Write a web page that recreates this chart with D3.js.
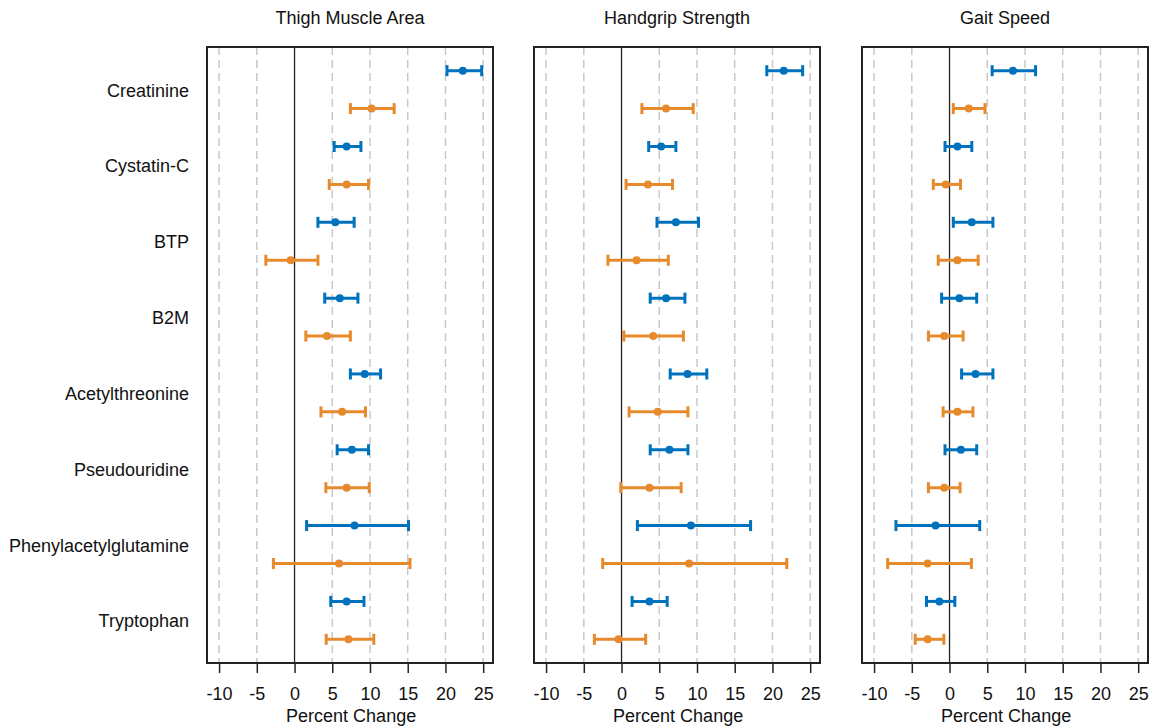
<!DOCTYPE html>
<html>
<head>
<meta charset="utf-8">
<script src="https://cdn.jsdelivr.net/npm/d3@7"></script>
<style>
  body { margin: 0; background: #fff; }
  text { font-family: Arial, "Liberation Sans", sans-serif; fill: #111; }
</style>
</head>
<body>
<svg id="chart" width="1158" height="728"></svg>
<script>
// biomarkers, top to bottom
var markers = ['Creatinine', 'Cystatin-C', 'BTP', 'B2M', 'Acetylthreonine',
               'Pseudouridine', 'Phenylacetylglutamine', 'Tryptophan'];
var panels = ['Thigh Muscle Area', 'Handgrip Strength', 'Gait Speed'];
var xticks = [-10, -5, 0, 5, 10, 15, 20, 25];

// [estimate, lower, upper] per marker; blue series then orange series
var thighBlue = [[22.3, 20.2, 24.8], [6.9, 5.25, 8.8], [5.4, 3.1, 7.9], [6.0, 4.0, 8.4],
                 [9.3, 7.4, 11.4], [7.6, 5.65, 9.8], [7.95, 1.6, 15.1], [6.9, 4.8, 9.2]];
var thighOrange = [[10.2, 7.4, 13.2], [6.9, 4.6, 9.8], [-0.5, -3.8, 3.1], [4.3, 1.5, 7.4],
                   [6.3, 3.5, 9.4], [6.9, 4.15, 9.9], [5.9, -2.8, 15.3], [7.15, 4.2, 10.5]];
var gripBlue = [[21.5, 19.25, 24.0], [5.25, 3.6, 7.2], [7.2, 4.7, 10.2], [5.9, 3.8, 8.4],
                [8.75, 6.45, 11.3], [6.35, 3.8, 8.8], [9.2, 2.1, 17.1], [3.7, 1.4, 6.05]];
var gripOrange = [[5.9, 2.7, 9.5], [3.5, 0.6, 6.75], [2.0, -1.8, 6.2], [4.2, 0.3, 8.2],
                  [4.8, 1.0, 8.8], [3.7, -0.1, 7.9], [8.95, -2.5, 21.9], [-0.4, -3.6, 3.2]];
var gaitBlue = [[8.4, 5.65, 11.4], [1.05, -0.6, 2.95], [2.95, 0.5, 5.75], [1.3, -1.05, 3.6],
                [3.45, 1.6, 5.75], [1.5, -0.6, 3.6], [-1.85, -7.1, 4.0], [-1.35, -3.05, 0.7]];
var gaitOrange = [[2.55, 0.5, 4.7], [-0.5, -2.15, 1.45], [1.05, -1.5, 3.8], [-0.7, -2.8, 1.8],
                  [1.05, -0.85, 3.1], [-0.7, -2.8, 1.4], [-2.9, -8.2, 2.9], [-2.9, -4.55, -0.75]];

var panelData = [[thighBlue, thighOrange], [gripBlue, gripOrange], [gaitBlue, gaitOrange]];
var colors = ['#0072bd', '#e68a2c'];

var svg = d3.select('#chart');

var top_y = 47, bottom_y = 663;
var panel_left = [207, 534, 862];
var panel_width = 286;
var font_size = '18px';

// 16 rows: blue and orange for each marker
var y = d3.scaleLinear()
    .domain([-0.625, 15.625])
    .range([top_y, bottom_y]);

// marker labels
svg.append('g').selectAll('text')
    .data(markers)
  .enter()
    .append('text')
    .attr('x', 189)
    .attr('y', function(d, i) { return y(i * 2 + 0.5) + 1; })
    .attr('text-anchor', 'end')
    .attr('dominant-baseline', 'central')
    .style('font-size', font_size)
    .text(function(d) { return d; });

for (var p = 0; p < panels.length; p++) {

    var x = d3.scaleLinear()
        .domain([-11.6, 26.3])
        .range([panel_left[p], panel_left[p] + panel_width]);

    var g = svg.append('g');

    // dashed grid
    g.selectAll('line.grid')
        .data(xticks.filter(function(t) { return t != 0; }))
      .enter()
        .append('line')
        .attr('class', 'grid')
        .attr('x1', function(d) { return x(d); })
        .attr('x2', function(d) { return x(d); })
        .attr('y1', top_y)
        .attr('y2', bottom_y)
        .attr('stroke', '#c8c8c8')
        .attr('stroke-width', 1.5)
        .attr('stroke-dasharray', '8,5');

    // zero line
    g.append('line')
        .attr('x1', x(0)).attr('x2', x(0))
        .attr('y1', top_y).attr('y2', bottom_y)
        .attr('stroke', '#222')
        .attr('stroke-width', 1.3);

    // x axis
    var axis = d3.axisBottom(x)
        .tickValues(xticks)
        .tickFormat(function(d) { return String(d); })
        .tickSize(10)
        .tickPadding(14)
        .tickSizeOuter(0);
    var ax = g.append('g')
        .attr('transform', 'translate(0,' + bottom_y + ')')
        .call(axis);
    ax.select('.domain').remove();
    ax.selectAll('.tick line').attr('stroke', '#222').attr('stroke-width', 1.5);
    ax.selectAll('.tick text')
        .style('font-size', font_size)
        .style('font-family', 'Arial, "Liberation Sans", sans-serif')
        .attr('fill', '#111');

    // error bars
    for (var s = 0; s < 2; s++) {
        var series = panelData[p][s];
        var sg = g.append('g');
        var sv = s;
        sg.selectAll('line.bar')
            .data(series)
          .enter()
            .append('line')
            .attr('x1', function(d) { return x(d[1]); })
            .attr('x2', function(d) { return x(d[2]); })
            .attr('y1', function(d, i) { return y(i * 2 + sv); })
            .attr('y2', function(d, i) { return y(i * 2 + sv); })
            .attr('stroke', colors[s])
            .attr('stroke-width', 3);
        [1, 2].forEach(function(k) {
            sg.selectAll('line.cap' + k)
                .data(series)
              .enter()
                .append('line')
                .attr('x1', function(d) { return x(d[k]); })
                .attr('x2', function(d) { return x(d[k]); })
                .attr('y1', function(d, i) { return y(i * 2 + sv) - 5.5; })
                .attr('y2', function(d, i) { return y(i * 2 + sv) + 5.5; })
                .attr('stroke', colors[sv])
                .attr('stroke-width', 3);
        });
        sg.selectAll('circle')
            .data(series)
          .enter()
            .append('circle')
            .attr('cx', function(d) { return x(d[0]); })
            .attr('cy', function(d, i) { return y(i * 2 + sv); })
            .attr('r', 4)
            .attr('fill', colors[s]);
    }

    // frame
    g.append('rect')
        .attr('x', panel_left[p])
        .attr('y', top_y)
        .attr('width', panel_width)
        .attr('height', bottom_y - top_y)
        .attr('fill', 'none')
        .attr('stroke', '#222')
        .attr('stroke-width', 2);

    // title
    g.append('text')
        .attr('x', panel_left[p] + panel_width / 2)
        .attr('y', 24)
        .attr('text-anchor', 'middle')
        .style('font-size', font_size)
        .text(panels[p]);

    // axis label
    g.append('text')
        .attr('x', x(7.5))
        .attr('y', 722)
        .attr('text-anchor', 'middle')
        .style('font-size', font_size)
        .text('Percent Change');
}
</script>
</body>
</html>
